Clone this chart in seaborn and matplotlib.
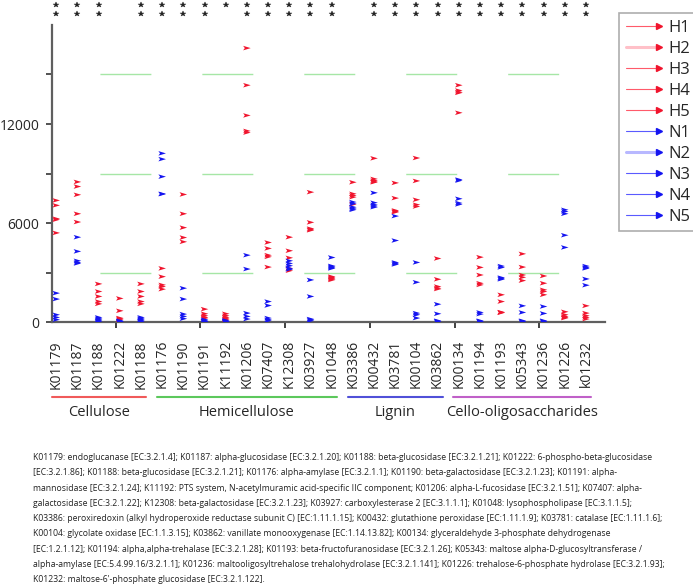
import matplotlib
matplotlib.use('Agg')
import matplotlib.pyplot as plt
import matplotlib.transforms as mtransforms
from matplotlib.lines import Line2D
from matplotlib.legend_handler import HandlerLine2D
from matplotlib.path import Path
import seaborn as sns
import numpy as np
import pandas as pd

sns.set_style('ticks')
plt.rcParams['font.family'] = ['Open Sans', 'DejaVu Sans']

# KO ids on the x axis (K01188 appears twice in the source figure)
categories = ['K01179', 'K01187', 'K01188', 'K01222', 'K01188',
              'K01176', 'K01190', 'K01191', 'K11192', 'K01206', 'K07407',
              'K12308', 'K03927', 'K01048',
              'K03386', 'K00432', 'K03781', 'K00104', 'K03862',
              'K00134', 'K01194', 'K01193', 'K05343', 'K01236', 'K01226', 'k01232']

# H1..H5 values per category
h_vals = [
    [7370, 7070, 6260, 6200, 5400],
    [8490, 8210, 7710, 6560, 6060],
    [2310, 1850, 1550, 1240, 1100],
    [1430, 680, 240, 200, 140],
    [2310, 1850, 1550, 1240, 1100],
    [3250, 2750, 2250, 2150, 1990],
    [7730, 6560, 5720, 5120, 4860],
    [780, 500, 380, 280, 240],
    [500, 380, 280, 200, 140],
    [16600, 14350, 12520, 11580, 11480],
    [4820, 4460, 4050, 3950, 3330],
    [5140, 4320, 3890, 3250, 3110],
    [7870, 6040, 5660, 5560, 5600],
    [2750, 2700, 2650, 2600, 2550],
    [8470, 7770, 7670, 7570, 7130],
    [9920, 8670, 8570, 8470, 8500],
    [8430, 7510, 6760, 6660, 6700],
    [9940, 8550, 7410, 7110, 7000],
    [3850, 2590, 2150, 2050, 2000],
    [14350, 14030, 13930, 13890, 12680],
    [3930, 3310, 2850, 2350, 2250],
    [1650, 1240, 600, 580, 560],
    [4130, 3330, 2850, 2710, 2510],
    [2790, 2350, 1950, 1850, 1650],
    [620, 440, 340, 280, 240],
    [980, 540, 380, 280, 180],
]

# N1..N5 values per category
n_vals = [
    [1750, 1390, 440, 280, 140],
    [5140, 4280, 3710, 3610, 3550],
    [280, 200, 140, 80, 40],
    [80, 40, 20, 20, 0],
    [280, 200, 140, 80, 40],
    [10220, 9870, 8810, 7770, 7750],
    [2050, 1390, 480, 340, 200],
    [140, 80, 40, 20, 20],
    [100, 60, 40, 20, 0],
    [4050, 3210, 540, 340, 180],
    [1240, 1000, 240, 140, 80],
    [3710, 3550, 3410, 3250, 3190],
    [2550, 1550, 180, 140, 80],
    [3910, 3400, 3350, 3300, 3250],
    [7270, 7170, 6960, 6860, 6800],
    [7830, 7230, 7100, 7030, 6960],
    [6420, 4940, 3610, 3550, 3490],
    [3610, 2410, 540, 440, 240],
    [1080, 500, 80, 40, 20],
    [8630, 8570, 7470, 7210, 7130],
    [580, 480, 80, 40, 20],
    [3390, 3310, 2690, 2640, 2590],
    [980, 580, 80, 40, 20],
    [940, 520, 80, 40, 20],
    [6800, 6700, 6560, 5260, 4520],
    [3390, 3300, 3250, 2610, 2230],
]

# significance stars above each category
star_counts = [2, 2, 2, 0, 2, 2, 2, 2, 1, 2, 2, 2, 2, 2,
               0, 2, 2, 2, 2, 2, 2, 2, 2, 2, 2, 2]

group_names = ['Cellulose', 'Hemicellulose', 'Lignin', 'Cello-oligosaccharides']
group_spans = [(0, 4), (5, 13), (14, 18), (19, 25)]
group_colors = ['#f05a5a', '#5cc85c', '#5050d8', '#c060c8']

legend_labels = ['H1', 'H2', 'H3', 'H4', 'H5', 'N1', 'N2', 'N3', 'N4', 'N5']

footnote = (
    "K01179: endoglucanase [EC:3.2.1.4]; K01187: alpha-glucosidase [EC:3.2.1.20]; K01188: beta-glucosidase [EC:3.2.1.21]; K01222: 6-phospho-beta-glucosidase\n"
    "[EC:3.2.1.86]; K01188: beta-glucosidase [EC:3.2.1.21]; K01176: alpha-amylase [EC:3.2.1.1]; K01190: beta-galactosidase [EC:3.2.1.23]; K01191: alpha-\n"
    "mannosidase [EC:3.2.1.24]; K11192: PTS system, N-acetylmuramic acid-specific IIC component; K01206: alpha-L-fucosidase [EC:3.2.1.51]; K07407: alpha-\n"
    "galactosidase [EC:3.2.1.22]; K12308: beta-galactosidase [EC:3.2.1.23]; K03927: carboxylesterase 2 [EC:3.1.1.1]; K01048: lysophospholipase [EC:3.1.1.5];\n"
    "K03386: peroxiredoxin (alkyl hydroperoxide reductase subunit C) [EC:1.11.1.15]; K00432: glutathione peroxidase [EC:1.11.1.9]; K03781: catalase [EC:1.11.1.6];\n"
    "K00104: glycolate oxidase [EC:1.1.3.15]; K03862: vanillate monooxygenase [EC:1.14.13.82]; K00134: glyceraldehyde 3-phosphate dehydrogenase\n"
    "[EC:1.2.1.12]; K01194: alpha,alpha-trehalase [EC:3.2.1.28]; K01193: beta-fructofuranosidase [EC:3.2.1.26]; K05343: maltose alpha-D-glucosyltransferase /\n"
    "alpha-amylase [EC:5.4.99.16/3.2.1.1]; K01236: maltooligosyltrehalose trehalohydrolase [EC:3.2.1.141]; K01226: trehalose-6-phosphate hydrolase [EC:3.2.1.93];\n"
    "K01232: maltose-6'-phosphate glucosidase [EC:3.2.1.122]."
)

RED = '#f0142d'
BLUE = '#1414f0'

# long table for seaborn
rows = []
for i, (h, n) in enumerate(zip(h_vals, n_vals)):
    for v in h:
        rows.append((i, v, 'H'))
    for v in n:
        rows.append((i, v, 'N'))
df = pd.DataFrame(rows, columns=['pos', 'value', 'type'])

fig = plt.figure(figsize=(6.93, 5.84), dpi=100)
ax = fig.add_axes([0.075, 0.4486, 0.798, 0.5086])

# notched arrowhead marker
arrow = Path([(-1, -0.6), (1, 0), (-1, 0.6), (-0.55, 0), (-1, -0.6)],
             [Path.MOVETO, Path.LINETO, Path.LINETO, Path.LINETO, Path.CLOSEPOLY])

sns.scatterplot(data=df, x='pos', y='value', hue='type',
                palette={'H': RED, 'N': BLUE}, marker=arrow, s=30,
                linewidth=0, legend=False, ax=ax, zorder=3)

# faint green dashed guides
for yv in (3000, 9000, 15000):
    ax.axhline(yv, color='#a6e6a6', lw=1, linestyle=(38.9, (36.7, 36.7)), zorder=1)

ax.set_xlim(-0.2, 25.9)
ax.set_ylim(0, 18000)
ax.set_xlabel('')
ax.set_ylabel('')

ax.set_yticks(np.arange(0, 18000, 3000))
ax.set_yticklabels(['0', '', '6000', '', '12000', ''])
ax.tick_params(axis='y', length=4, width=1.3, color='#444444', pad=5, labelsize=10)

ax.set_xticks(np.arange(2.8, 25, 4))
ax.set_xticklabels([])
ax.tick_params(axis='x', which='major', length=4, width=1.3, color='#333333')
ax.set_xticks(range(len(categories)), labels=categories, minor=True)
ax.tick_params(axis='x', which='minor', length=0, pad=13, labelsize=10, labelrotation=90)

sns.despine(ax=ax)
for side in ('left', 'bottom'):
    ax.spines[side].set_color('#5f5f5f')
    ax.spines[side].set_linewidth(1.6)

trans = mtransforms.blended_transform_factory(ax.transData, ax.transAxes)

# stars
sx, sy = [], []
for i, c in enumerate(star_counts):
    if c >= 1:
        sx.append(i); sy.append(1.068)
    if c >= 2:
        sx.append(i); sy.append(1.037)
ax.plot(sx, sy, linestyle='none', marker='*', ms=4.3, color='#222222',
        markeredgewidth=0.3, transform=trans, clip_on=False)

# group brackets
for name, (s, e), col in zip(group_names, group_spans, group_colors):
    x0 = max(s - 0.25, -0.2)
    x1 = e + 0.25
    ax.plot([x0, x1], [-0.2525, -0.2525], color=col, lw=1.5,
            transform=trans, clip_on=False)
    ax.text((x0 + x1) / 2, -0.303, name, transform=trans, ha='center',
            va='center', fontsize=10.5)


class ArrowLine(HandlerLine2D):
    def create_artists(self, legend, orig_handle, xdescent, ydescent,
                       width, height, fontsize, trans):
        y = height / 2 - ydescent
        line = Line2D([-xdescent, width - xdescent - 2], [y, y],
                      color=orig_handle.get_color(),
                      lw=orig_handle.get_linewidth(), transform=trans)
        head = Line2D([width - xdescent - 2], [y], marker='>', ms=5,
                      color=orig_handle.get_markerfacecolor(),
                      linestyle='none', transform=trans)
        return [line, head]


line_cols = ['#ff5a6a', '#ffc0c8', '#ff5a6a', '#ff5a6a', '#ff5a6a',
             '#5a5aff', '#b8b8ff', '#5a5aff', '#5a5aff', '#5a5aff']
line_w = [0.8, 2.2, 0.8, 0.8, 0.8, 0.8, 2.2, 0.8, 0.8, 0.8]
heads = [RED] * 5 + [BLUE] * 5
handles = [Line2D([], [], color=c, lw=w, markerfacecolor=hc)
           for c, w, hc in zip(line_cols, line_w, heads)]

leg = fig.legend(handles, legend_labels, loc='upper left',
                 bbox_to_anchor=(0.893, 0.978), handler_map={Line2D: ArrowLine()},
                 frameon=True, fancybox=False, edgecolor='#999999', fontsize=12,
                 handlelength=2.2, handletextpad=0.4, labelspacing=0.3,
                 borderpad=0.4, borderaxespad=0)
leg.get_frame().set_linewidth(1.2)

fig.text(33 / 693, 1 - 453 / 584, footnote, ha='left', va='top',
         fontsize=6.2, linespacing=1.9, color='#222222')

fig.savefig('out.png', dpi=100)
